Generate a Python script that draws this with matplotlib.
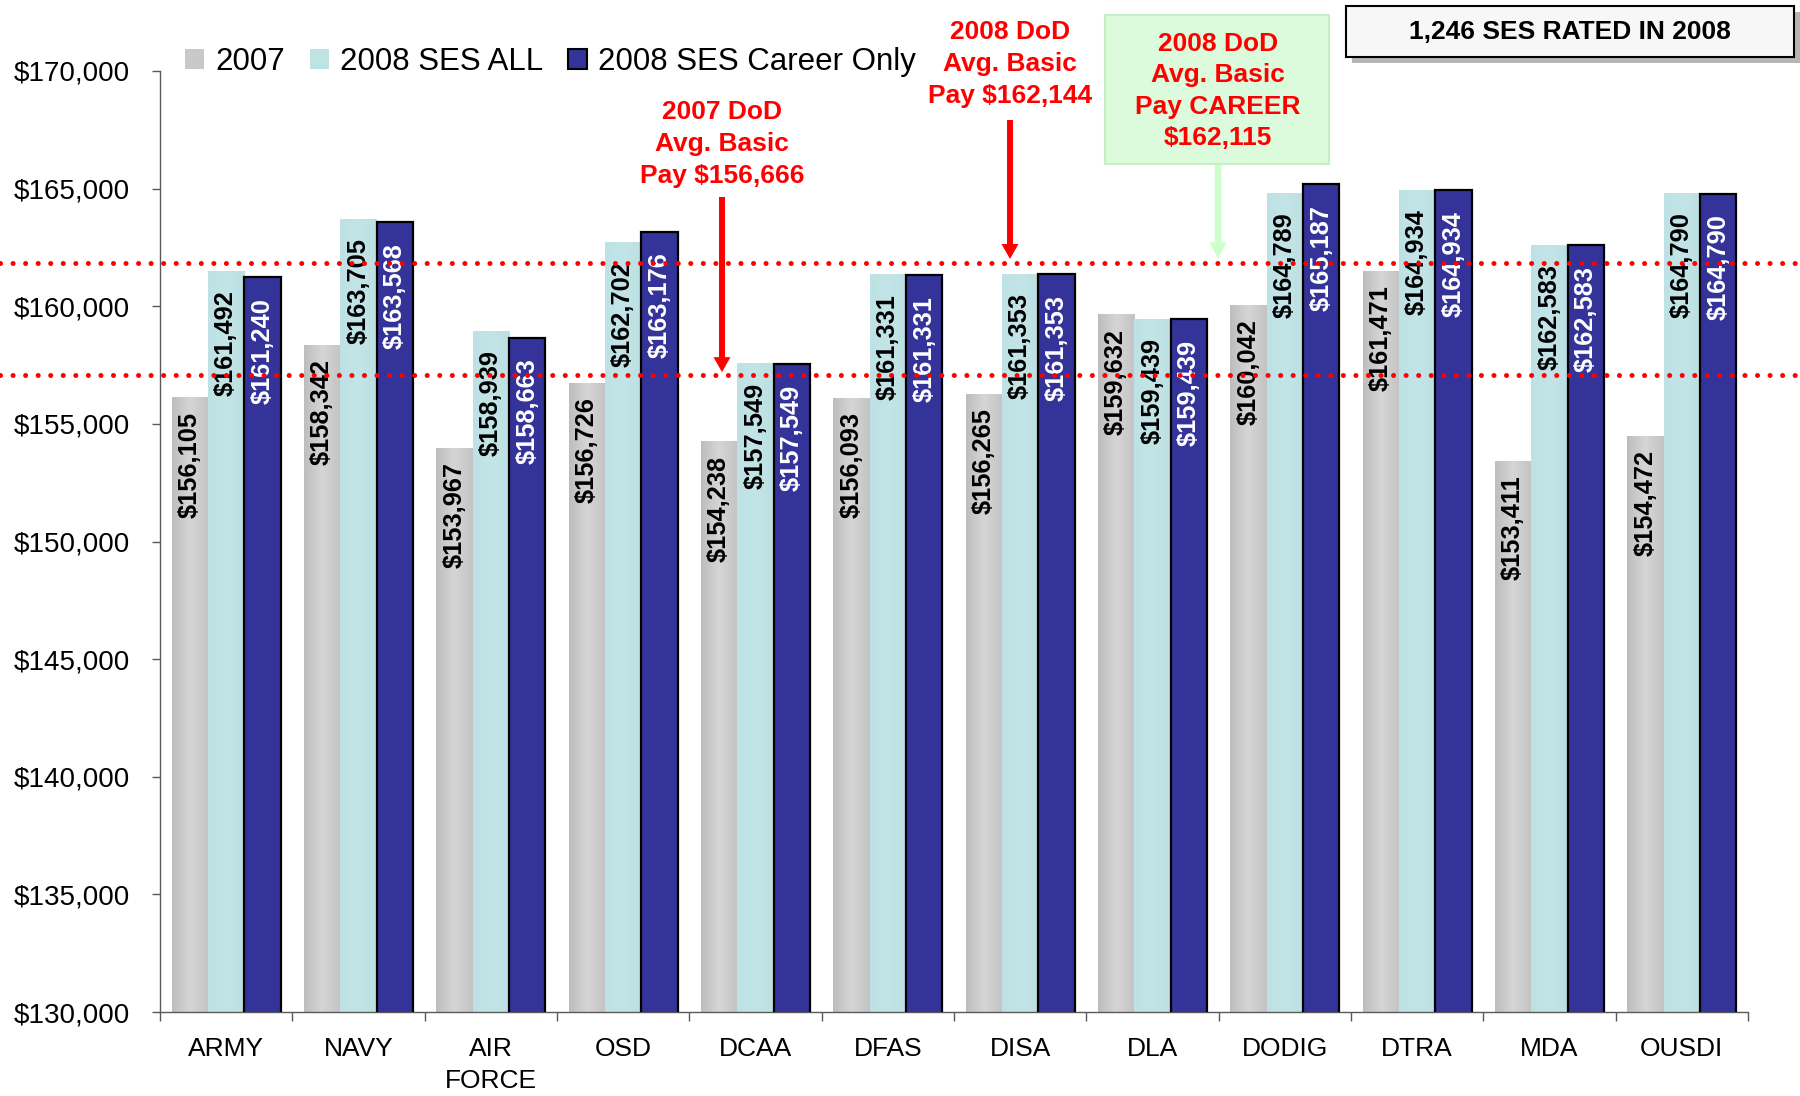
import numpy as np
import matplotlib
matplotlib.use('Agg')
import matplotlib.pyplot as plt
from matplotlib.colors import LinearSegmentedColormap
from matplotlib.patches import Rectangle
from matplotlib.transforms import blended_transform_factory

plt.rcParams['font.family'] = ['Liberation Sans', 'DejaVu Sans']

# ---------------- data ----------------
categories = ['ARMY', 'NAVY', 'AIR\nFORCE', 'OSD', 'DCAA', 'DFAS', 'DISA', 'DLA',
              'DODIG', 'DTRA', 'MDA', 'OUSDI']
pay_2007 = [156105, 158342, 153967, 156726, 154238, 156093, 156265, 159632,
            160042, 161471, 153411, 154472]
pay_2008_all = [161492, 163705, 158939, 162702, 157549, 161331, 161353, 159439,
                164789, 164934, 162583, 164790]
pay_2008_career = [161240, 163568, 158663, 163176, 157549, 161331, 161353, 159439,
                   165187, 164934, 162583, 164790]
series_names = ['2007', '2008 SES ALL', '2008 SES Career Only']
y_ticks = [130000, 135000, 140000, 145000, 150000, 155000, 160000, 165000, 170000]
ref_lines = [161838, 157078]          # red dotted reference lines (as drawn)
note_2007 = '2007 DoD\nAvg. Basic\nPay $156,666'
note_2008 = '2008 DoD\nAvg. Basic\nPay $162,144'
note_career = '2008 DoD\nAvg. Basic\nPay CAREER\n$162,115'
box_text = '1,246 SES RATED IN 2008'

# ---------------- layout helpers (pixel -> figure fraction) ----------------
W, H = 1800, 1096
def fx(px):
    return px / W
def fy(py):
    return 1 - py / H

fig = plt.figure(figsize=(18, 10.96), dpi=100)
ax = fig.add_axes([fx(160), fy(1012), (1748 - 160) / W, (1012 - 71) / H])

x = np.arange(len(categories))
w = 0.275
GRAY, CYAN, NAVY = '#c8c8c8', '#bfe2e5', '#333399'

bars_g = ax.bar(x - w, pay_2007, w, color=GRAY, zorder=2)
bars_c = ax.bar(x, pay_2008_all, w, color=CYAN, zorder=2)
bars_n = ax.bar(x + w, pay_2008_career, w, color=NAVY, edgecolor='black',
                linewidth=1.6, zorder=3)

# horizontal gradients on gray / cyan bars
cm_gray = LinearSegmentedColormap.from_list('g', [(0, '#bdbdbd'), (0.5, '#d6d6d6'), (1, '#c3c3c3')])
cm_cyan = LinearSegmentedColormap.from_list('c', [(0, '#bde1e4'), (0.5, '#c3e5e8'), (1, '#bcdfe2')])
grad = np.linspace(0, 1, 64).reshape(1, -1)
for bars, cm in ((bars_g, cm_gray), (bars_c, cm_cyan)):
    for b in bars:
        x0 = b.get_x()
        ax.imshow(grad, cmap=cm, extent=[x0, x0 + b.get_width(), b.get_y(), b.get_y() + b.get_height()],
                  aspect='auto', zorder=2.2, interpolation='bilinear')

# value labels
for bars, vals, col, off in ((bars_g, pay_2007, 'black', 10),
                             (bars_c, pay_2008_all, 'black', 13.5),
                             (bars_n, pay_2008_career, 'white', 15)):
    for b, v in zip(bars, vals):
        ax.annotate(f'${v:,}', xy=(b.get_x() + b.get_width() / 2, v), xytext=(0, -off),
                    textcoords='offset points', rotation=90, ha='center', va='top',
                    fontsize=18.3, fontweight='bold', color=col, zorder=5)

ax.set_xlim(-0.5, len(categories) - 0.5)
ax.set_ylim(y_ticks[0], y_ticks[-1])

# axes styling
for s in ('top', 'right'):
    ax.spines[s].set_visible(False)
for s in ('left', 'bottom'):
    ax.spines[s].set_color('#595959')
    ax.spines[s].set_linewidth(1.0)

ax.set_yticks(y_ticks)
ax.set_yticklabels([f'${v:,}' for v in y_ticks])
ax.tick_params(axis='y', labelsize=20, length=5.8, width=1, color='#595959', pad=16)
ax.set_xticks(x)
ax.set_xticklabels(categories)
ax.set_xticks(np.arange(len(categories) + 1) - 0.5, minor=True)
ax.tick_params(axis='x', which='major', length=0, labelsize=19, pad=18)
ax.tick_params(axis='x', which='minor', length=6.5, width=1, color='#595959')
for t in ax.get_xticklabels():
    t.set_linespacing(1.4)

# red dotted reference lines across the whole figure width
trans = blended_transform_factory(fig.transFigure, ax.transData)
for yv in ref_lines:
    ax.plot([0, 1], [yv, yv], transform=trans, color='red', lw=3.6,
            linestyle=(0, (0.01, 2.5)), dash_capstyle='round', clip_on=False, zorder=8)

# legend
handles = [Rectangle((0, 0), 1, 1, fc=GRAY),
           Rectangle((0, 0), 1, 1, fc=CYAN),
           Rectangle((0, 0), 1, 1, fc=NAVY, ec='black', lw=1.5)]
fig.legend(handles, series_names, loc='center left', bbox_to_anchor=(fx(185), fy(62)),
           ncol=3, frameon=False, fontsize=22.5, handlelength=0.6, handleheight=0.6,
           handletextpad=0.36, columnspacing=0.8, borderpad=0, borderaxespad=0)

# annotations
def arrow(xpx, ypx_start, ytip, color, tail, head_w, head_l):
    ax.annotate('', xy=(fx(xpx), ytip), xycoords=('figure fraction', 'data'),
                xytext=(fx(xpx), fy(ypx_start)), textcoords='figure fraction',
                arrowprops=dict(arrowstyle=f'simple,head_length={head_l},head_width={head_w},tail_width={tail}',
                                mutation_scale=10, fc=color, ec='none', lw=0, shrinkA=0, shrinkB=0),
                zorder=9, annotation_clip=False)

red_kw = dict(ha='center', va='center', color='red', fontsize=19, fontweight='bold',
              linespacing=1.4, zorder=10)
fig.text(fx(722), fy(144), note_2007, **red_kw)
arrow(722, 197, ref_lines[1] + 120, 'red', 0.43, 1.22, 1.08)

fig.text(fx(1010), fy(64), note_2008, **red_kw)
arrow(1010, 120, ref_lines[0] + 170, 'red', 0.43, 1.22, 1.08)

fig.add_artist(Rectangle((fx(1105), fy(164)), 224 / W, 149 / H, transform=fig.transFigure,
                         fc='#dcfadc', ec='#c4f0c4', lw=1.5, zorder=3))
fig.text(fx(1218), fy(91), note_career, **red_kw)
arrow(1218, 164, ref_lines[0] + 170, '#ccffcc', 0.48, 1.22, 1.2)

# top-right box with shadow
fig.add_artist(Rectangle((fx(1352), fy(63)), 448 / W, 51 / H, transform=fig.transFigure,
                         fc='#b5b5b5', ec='none', zorder=3))
fig.add_artist(Rectangle((fx(1346), fy(57)), 448 / W, 51 / H, transform=fig.transFigure,
                         fc='#f7f7f7', ec='black', lw=1.5, zorder=4))
fig.text(fx(1570), fy(32), box_text, ha='center', va='center', fontsize=19,
         fontweight='bold', color='black', zorder=5)

fig.savefig('out.png', dpi=100)
